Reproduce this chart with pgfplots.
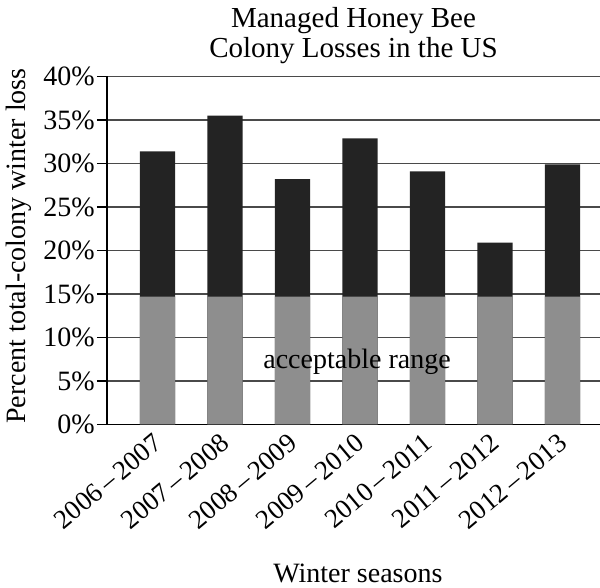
\documentclass[border=0pt]{standalone}
\usepackage{pgfplots}
\pgfplotsset{compat=1.18}
\usepackage{fontspec}
\setmainfont{Liberation Serif}

\definecolor{lossdark}{HTML}{232323}
\definecolor{okgray}{HTML}{8E8E8E}
\definecolor{gridgray}{HTML}{4A4A4A}

\begin{document}
\begin{tikzpicture}
% page frame: 300pt x 294pt around the axis box
\useasboundingbox (-53.5pt,-81.75pt) rectangle (246.5pt,212.25pt);
\begin{axis}[
  at={(0,0)}, anchor=south west,
  scale only axis, width=246.5pt, height=174pt,
  xmin=0.252, xmax=7.556, ymin=0, ymax=40,
  axis lines*=left, axis line style={line width=0.9pt, black},
  ytick={0,5,...,40}, yticklabel={\pgfmathprintnumber{\tick}\%},
  /pgf/number format/assume math mode=true,
  ymajorgrids, grid style={gridgray, line width=0.8pt},
  major tick length=5pt, tick style={black, line width=0.8pt},
  tick align=outside,
  xtick={1,...,7}, x tick style={draw=none},
  xticklabels={2006\,--\,2007,2007\,--\,2008,2008\,--\,2009,2009\,--\,2010,2010\,--\,2011,2011\,--\,2012,2012\,--\,2013},
  x tick label style={rotate=40, anchor=east, font=\fontsize{13.5}{15}\selectfont, xshift=2pt, yshift=-2pt},
  y tick label style={font=\fontsize{14}{16}\selectfont, inner sep=1pt},
  ylabel={Percent total-colony winter loss},
  ylabel style={font=\fontsize{14}{16}\selectfont, at={(axis description cs:0,0.513)}, anchor=center, yshift=44pt},
  xlabel={Winter seasons},
  xlabel style={font=\fontsize{14}{16}\selectfont, at={(axis description cs:0.509,0)}, anchor=base, inner sep=0pt, yshift=-79pt},
  title={Managed Honey Bee\\Colony Losses in the US},
  title style={font=\fontsize{14.5}{15}\selectfont, align=center, inner sep=0pt, yshift=0pt},
  ybar, bar shift=0pt, bar width=0.52,
  clip=false,
]
% total winter loss per season
\addplot[fill=lossdark, draw=none] coordinates {
  (1,31.4) (2,35.5) (3,28.2) (4,32.9) (5,29.1) (6,20.9) (7,29.9)};
% acceptable range
\addplot[fill=okgray, draw=none] coordinates {
  (1,14.7) (2,14.7) (3,14.7) (4,14.7) (5,14.7) (6,14.7) (7,14.7)};
\node[font=\fontsize{14}{16}\selectfont] at (axis cs:3.956,7.2) {acceptable range};
\end{axis}
\end{tikzpicture}
\end{document}
